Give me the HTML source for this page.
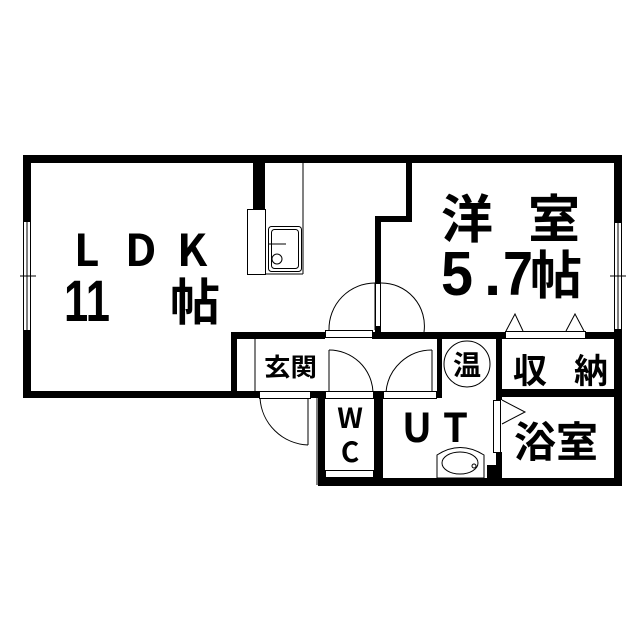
<!DOCTYPE html>
<html><head><meta charset="utf-8"><style>
html,body{margin:0;padding:0;background:#fff;}
svg{display:block;}
text{font-family:"Liberation Sans","Noto Sans CJK JP",sans-serif;fill:#000;}
.c{font-family:"Noto Sans CJK JP",sans-serif;font-weight:bold;}
</style></head><body>
<svg width="639" height="640" viewBox="0 0 639 640" xmlns="http://www.w3.org/2000/svg">
<g fill="#000">
<rect x="23" y="155" width="599" height="8"/>
<rect x="23" y="155" width="8" height="66"/>
<rect x="23" y="331" width="8" height="67"/>
<rect x="23" y="391" width="236" height="7"/>
<rect x="310" y="391" width="15" height="7"/>
<rect x="253" y="163" width="12" height="46"/>
<rect x="406" y="163" width="6" height="59"/>
<rect x="375" y="216" width="37" height="6"/>
<rect x="375" y="216" width="6" height="67"/>
<rect x="375" y="326" width="6" height="13"/>
<rect x="231" y="332" width="94" height="7"/>
<rect x="372" y="332" width="133" height="7"/>
<rect x="585" y="332" width="37" height="7"/>
<rect x="614" y="155" width="8" height="67"/>
<rect x="614" y="330" width="8" height="156"/>
<rect x="231" y="332" width="6" height="66"/>
<rect x="318" y="391" width="7" height="95"/>
<rect x="374" y="391" width="9" height="95"/>
<rect x="437" y="339" width="5" height="59"/>
<rect x="496" y="339" width="6" height="61"/>
<rect x="496" y="452" width="6" height="34"/>
<rect x="502" y="389" width="112" height="8"/>
<rect x="318" y="478" width="304" height="8"/>
<rect x="487" y="465" width="9" height="13"/>
</g>
<g fill="none" stroke="#000" stroke-width="1">
<rect x="23.5" y="221.5" width="7" height="109"/>
<line x1="27" y1="221" x2="27" y2="331"/>
<line x1="20" y1="276" x2="36" y2="276"/>
<rect x="614.5" y="222.5" width="7" height="107"/>
<line x1="618" y1="222" x2="618" y2="330"/>
<line x1="610" y1="276" x2="626" y2="276"/>
<line x1="303" y1="163" x2="303" y2="274"/>
<rect x="247.5" y="209.5" width="18" height="65"/>
<line x1="265" y1="274" x2="303" y2="274"/>
<rect x="268.5" y="226.5" width="33" height="45" rx="3"/>
<rect x="271.5" y="229.5" width="27" height="39" rx="3"/>
<circle cx="277" cy="259" r="5"/>
<line x1="268" y1="244" x2="286" y2="244"/>
<rect x="375.5" y="283.5" width="5" height="43"/>
<path d="M375 283 A46 46 0 0 0 329 330"/>
<line x1="375" y1="283" x2="375" y2="330"/>
<rect x="325.5" y="330.5" width="47" height="7"/>
<path d="M381 283 A43 43 0 0 1 424 332"/>
<rect x="259.5" y="391.5" width="51" height="7"/>
<path d="M260 398 A50 50 0 0 0 308 445"/>
<line x1="308" y1="398" x2="308" y2="445"/>
<line x1="317" y1="398" x2="317" y2="485"/>
<line x1="255" y1="339" x2="255" y2="391"/>
<rect x="325.5" y="391.5" width="48" height="7"/>
<path d="M329 350 A44 44 0 0 1 373 392"/>
<line x1="329" y1="350" x2="329" y2="392"/>
<rect x="383.5" y="391.5" width="53" height="7"/>
<path d="M432 350 A46 46 0 0 0 386 392"/>
<line x1="432" y1="350" x2="432" y2="392"/>
<rect x="325.5" y="470.5" width="48" height="7"/>
<rect x="505.5" y="331.5" width="80" height="7"/>
<path d="M506 331 L515 314 L523 331"/>
<path d="M566 331 L575 314 L584 331"/>
<rect x="493.5" y="400.5" width="7" height="52"/>
<path d="M502 400 L525 412 L502 424"/>
<circle cx="467" cy="364" r="23"/>
<path d="M437 478 L437 455 Q460 440 484 455 L484 478 Z"/>
<ellipse cx="460" cy="463" rx="18" ry="11"/>
<circle cx="474" cy="466" r="2"/>
</g>
<g font-weight="bold">
<text x="74" y="266" font-size="44" class="c">L</text>
<text x="125" y="266" font-size="44" class="c">D</text>
<text x="177" y="266" font-size="44" class="c">K</text>
<text x="64" y="321" font-size="58" textLength="46" lengthAdjust="spacingAndGlyphs">11</text>
<text x="170" y="320" font-size="50" class="c">帖</text>
<text x="441" y="238" font-size="52" class="c">洋</text>
<text x="528" y="238" font-size="52" class="c">室</text>
<text x="441" y="295" font-size="62" textLength="32" lengthAdjust="spacingAndGlyphs">5</text>
<text x="484" y="295" font-size="62">.</text>
<text x="503" y="295" font-size="62" textLength="30" lengthAdjust="spacingAndGlyphs">7</text>
<text x="530" y="294" font-size="52" class="c">帖</text>
<text x="264" y="376" font-size="25" class="c" textLength="53" lengthAdjust="spacingAndGlyphs">玄関</text>
<text x="467" y="375" font-size="28" text-anchor="middle" class="c">温</text>
<text x="513" y="383" font-size="34" class="c">収</text>
<text x="574" y="383" font-size="34" class="c">納</text>
<text x="350" y="428" font-size="28" text-anchor="middle" class="c">W</text>
<text x="350" y="462" font-size="28" text-anchor="middle" class="c">C</text>
<text x="402" y="442" font-size="40" class="c">U</text>
<text x="443" y="442" font-size="40" class="c">T</text>
<text x="514" y="457" font-size="42" class="c">浴室</text>
</g>
</svg>
</body></html>
